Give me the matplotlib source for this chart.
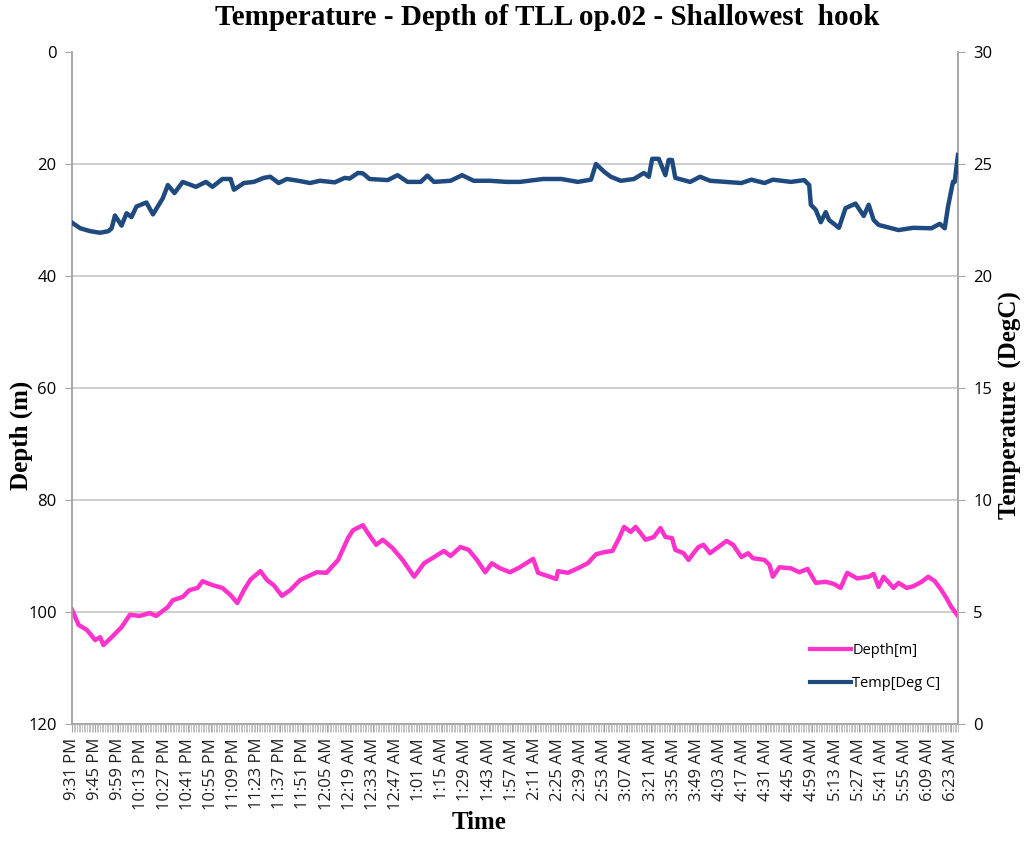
# Temperature / depth log of a longline hook, Excel-style twin-axis chart
import matplotlib
matplotlib.use("Agg")
import matplotlib.pyplot as plt
from matplotlib.lines import Line2D

# minutes after 9:31 PM
depth_min = [0, 4, 9, 14, 17, 19, 24, 30, 35, 41, 47, 51, 58, 61, 67, 71, 76, 79, 85, 91,
             96, 100, 104, 108, 114, 118, 122, 127, 132, 138, 148, 154, 161, 167, 170, 176,
             179, 184, 188, 194, 200, 207, 213, 219, 225, 229, 235, 240, 245, 250, 254, 259,
             265, 271, 279, 282, 288, 293, 294, 300, 306, 312, 317, 322, 327, 331, 334, 338,
             341, 344, 347, 352, 356, 359, 363, 365, 370, 373, 376, 379, 382, 386, 391, 396,
             400, 405, 409, 412, 419, 422, 424, 428, 435, 440, 445, 450, 456, 461, 465, 469,
             475, 482, 485, 488, 491, 497, 500, 505, 509, 514, 518, 522, 526, 529, 532, 536]
depth_m = [99.6, 102.3, 103.2, 105.0, 104.5, 105.9, 104.5, 102.7, 100.5, 100.7, 100.2, 100.7,
           99.1, 97.9, 97.3, 96.1, 95.7, 94.5, 95.2, 95.7, 97.0, 98.4, 96.1, 94.2, 92.7, 94.3,
           95.2, 97.1, 96.1, 94.3, 92.9, 93.0, 90.7, 86.8, 85.4, 84.5, 85.9, 88.0, 87.1, 88.6,
           90.7, 93.7, 91.3, 90.2, 89.1, 90.0, 88.4, 88.9, 90.7, 92.9, 91.3, 92.2, 92.9, 92.0,
           90.5, 93.0, 93.6, 94.1, 92.7, 93.0, 92.2, 91.3, 89.7, 89.3, 89.1, 86.8, 84.8, 85.7,
           84.8, 85.9, 87.1, 86.6, 85.0, 86.6, 86.8, 88.9, 89.5, 90.7, 89.5, 88.4, 88.0, 89.5,
           88.4, 87.3, 88.0, 90.2, 89.5, 90.4, 90.7, 91.6, 93.7, 92.0, 92.2, 92.9, 92.3, 94.8,
           94.6, 95.0, 95.7, 93.0, 94.0, 93.7, 93.2, 95.5, 93.7, 95.7, 94.8, 95.7, 95.4, 94.6,
           93.7, 94.5, 96.1, 97.5, 99.1, 100.7]

temp_min = [0, 5, 11, 17, 22, 24, 26, 30, 33, 36, 39, 45, 49, 55, 58, 62, 67, 75, 81, 85,
            91, 96, 98, 104, 110, 116, 120, 125, 130, 137, 144, 150, 159, 165, 168, 173, 176,
            180, 191, 197, 203, 211, 215, 219, 229, 236, 243, 253, 263, 271, 285, 296, 306,
            314, 317, 322, 326, 332, 340, 346, 349, 351, 355, 359, 361, 363, 365, 374, 380,
            386, 405, 411, 419, 424, 435, 443, 446, 447, 450, 453, 456, 458, 464, 468, 474,
            479, 482, 485, 488, 500, 509, 520, 525, 528, 530, 533, 534, 536]
temp_c = [22.38, 22.13, 22.0, 21.93, 22.0, 22.13, 22.7, 22.25, 22.8, 22.63, 23.1, 23.28,
          22.75, 23.48, 24.06, 23.7, 24.2, 23.98, 24.2, 23.98, 24.33, 24.33, 23.85, 24.15,
          24.2, 24.38, 24.43, 24.15, 24.33, 24.25, 24.15, 24.25, 24.18, 24.38, 24.35, 24.6,
          24.58, 24.33, 24.28, 24.5, 24.2, 24.2, 24.48, 24.2, 24.25, 24.5, 24.25, 24.25,
          24.2, 24.2, 24.33, 24.33, 24.2, 24.3, 25.0, 24.65, 24.43, 24.25, 24.33, 24.6,
          24.43, 25.23, 25.23, 24.5, 25.18, 25.18, 24.38, 24.2, 24.43, 24.25, 24.15, 24.3,
          24.15, 24.3, 24.2, 24.28, 24.06, 23.18, 22.95, 22.4, 22.85, 22.5, 22.15, 23.03,
          23.23, 22.68, 23.18, 22.5, 22.28, 22.05, 22.15, 22.13, 22.33, 22.13, 23.1, 24.2,
          24.2, 25.4]

tick_min = list(range(0, 533, 14))
tick_lbl = ["9:31 PM", "9:45 PM", "9:59 PM", "10:13 PM", "10:27 PM", "10:41 PM", "10:55 PM",
            "11:09 PM", "11:23 PM", "11:37 PM", "11:51 PM", "12:05 AM", "12:19 AM", "12:33 AM",
            "12:47 AM", "1:01 AM", "1:15 AM", "1:29 AM", "1:43 AM", "1:57 AM", "2:11 AM",
            "2:25 AM", "2:39 AM", "2:53 AM", "3:07 AM", "3:21 AM", "3:35 AM", "3:49 AM",
            "4:03 AM", "4:17 AM", "4:31 AM", "4:45 AM", "4:59 AM", "5:13 AM", "5:27 AM",
            "5:41 AM", "5:55 AM", "6:09 AM", "6:23 AM"]
n_min = 537

PINK = "#ff33cc"
NAVY = "#1f4a80"
AXC = "#a6a6a6"
SERIF = "Liberation Serif"
SANS = "Open Sans"

fig = plt.figure(figsize=(10.24, 8.41), dpi=100)
ax = fig.add_axes([0.0703, 0.1391, 0.8652, 0.7991])
ax2 = ax.twinx()

ax.plot(depth_min, depth_m, color=PINK, lw=3.2, solid_joinstyle="round", zorder=3)
ax2.plot(temp_min, temp_c, color=NAVY, lw=3.2, solid_joinstyle="round", zorder=3)

ax.set_xlim(0, n_min - 1)
ax.set_ylim(120, 0)
ax2.set_ylim(0, 30)
ax.set_yticks(range(0, 121, 20))
ax2.set_yticks(range(0, 31, 5))
for v in range(20, 101, 20):
    ax.axhline(v, color="#c0c0c0", lw=1.1, zorder=1)

ax.set_xticks(tick_min)
ax.set_xticklabels(tick_lbl, rotation=90, fontsize=12, family=SANS, color="#202020")
ax.set_xticks(range(n_min), minor=True)
ax.tick_params(axis="x", which="major", length=6, color=AXC, pad=4)
ax.tick_params(axis="x", which="minor", length=6, width=0.6, color="#b8b8b8")
ax.tick_params(axis="y", length=5, color=AXC, labelsize=12, pad=6)
ax2.tick_params(axis="y", length=5, color=AXC, labelsize=12, pad=6)
for lab in ax.get_yticklabels() + ax2.get_yticklabels():
    lab.set_family(SANS)

for a in (ax, ax2):
    a.spines["top"].set_visible(False)
    for s in ("left", "right", "bottom"):
        a.spines[s].set_color(AXC)
        a.spines[s].set_linewidth(1.1)

ax.set_ylabel("Depth (m)", family=SERIF, fontweight="bold", fontsize=18)
ax.yaxis.set_label_coords(-0.044, 0.43)
ax2.set_ylabel("Temperature  (DegC)", family=SERIF, fontweight="bold", fontsize=18)
ax2.yaxis.set_label_coords(1.046, 0.475)
ax.set_xlabel("Time", family=SERIF, fontweight="bold", fontsize=18)
ax.xaxis.set_label_coords(0.46, -0.13)
fig.text(0.534, 0.979, "Temperature - Depth of TLL op.02 - Shallowest  hook", family=SERIF,
         fontweight="bold", fontsize=21, ha="center", va="center")

handles = [Line2D([], [], color=PINK, lw=3), Line2D([], [], color=NAVY, lw=3)]
ax.legend(handles, ["Depth[m]", "Temp[Deg C]"], loc="lower right",
          bbox_to_anchor=(0.995, 0.03), frameon=False, handlelength=2.8,
          handletextpad=0.1, labelspacing=1.2, prop={"family": SANS, "size": 10.5})

fig.savefig("out.png", dpi=100)
